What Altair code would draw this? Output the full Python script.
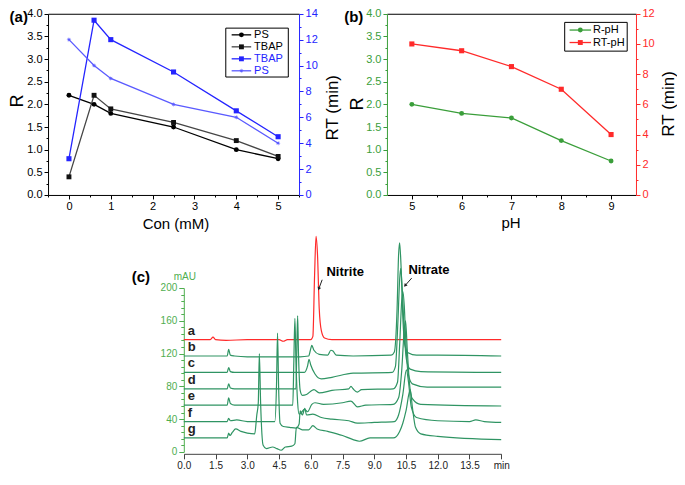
import math
import altair as alt
import pandas as pd

W, H = 669, 465
FONT = "Liberation Sans"


def px(x):
    return round(x * W / 685.0, 2)


def py(y):
    return round(y * H / 485.0, 2)


# ---------------- data: panel (a) ----------------
con_mM = [0, 0.6, 1, 2.5, 4, 5]
r_ps = [2.2, 2.0, 1.8, 1.5, 1.0, 0.8]
r_tbap = [0.4, 2.2, 1.9, 1.6, 1.2, 0.85]
rt_tbap = [2.8, 13.5, 12.0, 9.5, 6.5, 4.5]
rt_ps = [12.0, 10.0, 9.0, 7.0, 6.0, 4.0]

# ---------------- data: panel (b) ----------------
ph_values = [5, 6, 7, 8, 9]
r_ph = [2.0, 1.8, 1.7, 1.2, 0.75]
rt_ph = [10.0, 9.55, 8.5, 7.0, 4.0]

# ---------------- data: panel (c) chromatograms ----------------
trace_ids = ["a", "b", "c", "d", "e", "f", "g"]
t_a = [0, 1.25, 1.38, 1.5, 2.0, 3.0, 4.5, 4.7, 4.9, 6.0, 6.1, 6.18, 6.25, 6.32, 6.4, 6.5, 6.65, 7.0, 10.0, 15.0]
v_a = [137, 137, 140, 137, 136, 137, 137, 135, 137, 137, 141, 215, 263, 240, 175, 148, 139, 137, 137, 137]
t_b = [0, 2.05, 2.12, 2.2, 2.4, 3.0, 5.5, 5.9, 6.0, 6.05, 6.15, 6.4, 6.8, 6.95, 7.05, 7.2, 8.0, 9.8, 9.95, 10.08,
       10.15, 10.2, 10.27, 10.35, 10.45, 10.6, 11.0, 12.0, 15.0]
v_b = [117, 117, 125, 118, 117, 116, 116, 117, 126, 130, 124, 119, 118, 124, 123, 118, 117, 118, 122, 175,
       240, 255, 225, 165, 130, 121, 118, 118, 117]
t_c = [0, 2.05, 2.12, 2.2, 2.4, 5.7, 5.85, 5.92, 6.0, 6.2, 6.5, 7.0, 8.0, 9.85, 10.0, 10.12, 10.2, 10.25, 10.32,
       10.42, 10.52, 10.7, 11.2, 15.0]
v_c = [97, 97, 103, 98, 97, 97, 105, 113, 106, 95, 89, 91, 96, 97, 104, 160, 210, 224, 200,
       145, 113, 101, 98, 97]
t_d = [0, 2.05, 2.12, 2.2, 2.4, 5.3, 5.34, 5.38, 5.42, 5.5, 5.6, 5.8, 6.05, 6.15, 6.4, 7.0, 7.8, 7.9, 8.0, 8.2,
       8.4, 9.9, 10.1, 10.2, 10.3, 10.35, 10.42, 10.5, 10.6, 10.8, 11.5, 15.0]
v_d = [77, 77, 83, 78, 77, 77, 125, 166, 120, 75, 69, 70, 75, 76, 72, 75, 77, 80, 77, 73,
       76, 77, 85, 130, 185, 196, 178, 130, 96, 83, 79, 79]
t_e = [0, 2.05, 2.12, 2.2, 2.4, 5.15, 5.2, 5.25, 5.3, 5.38, 5.45, 5.55, 5.7, 5.85, 6.05, 6.2, 6.6, 7.5, 7.9, 8.2,
       8.6, 9.9, 10.15, 10.3, 10.42, 10.48, 10.56, 10.66, 10.8, 11.2, 15.0]
v_e = [57, 57, 66, 59, 57, 57, 110, 163, 110, 60, 46, 48, 52, 49, 58, 60, 58, 60, 62, 55,
       57, 58, 66, 100, 150, 160, 125, 85, 65, 58, 56]
t_f = [0, 2.05, 2.12, 2.2, 2.5, 3.0, 4.3, 4.38, 4.43, 4.48, 4.55, 4.7, 5.0, 5.3, 5.45, 5.5, 5.6, 5.72, 5.8, 6.1,
       6.5, 7.0, 7.8, 8.2, 9.0, 9.95, 10.15, 10.35, 10.52, 10.62, 10.75, 11.0, 12.0, 13.5, 13.8, 14.2, 15.0]
v_f = [37, 37, 41, 38, 39, 37, 37, 80, 145, 80, 35, 31, 30, 29, 34, 50, 45, 53, 45, 46,
       42, 40, 38, 35, 36, 37, 45, 70, 100, 85, 55, 42, 38, 37, 39, 37, 36]
t_g = [0, 2.05, 2.12, 2.18, 2.3, 2.45, 2.7, 3.0, 3.35, 3.45, 3.52, 3.57, 3.63, 3.75, 3.9, 4.2, 4.4, 4.6, 4.8, 5.1,
       5.25, 5.32, 5.6, 5.9, 6.1, 6.3, 6.8, 7.5, 8.0, 8.3, 8.8, 9.9, 10.2, 10.35, 10.5, 10.7, 10.8, 10.95, 11.2,
       12.0, 15.0]
v_g = [17, 17, 23, 20, 24, 28, 25, 23, 22, 45, 60, 120, 60, 8, 4, 6, 4, 2, 6, 7,
       10, 30, 27, 27, 32, 28, 25, 20, 15, 13, 17, 17, 25, 35, 50, 76, 55, 30, 22,
       19, 15]
trace_t = [t_a, t_b, t_c, t_d, t_e, t_f, t_g]
trace_v = [v_a, v_b, v_c, v_d, v_e, v_f, v_g]

# annotation anchors (min, mAU)
nitrite_arrow = {"x": [6.54], "y": [210], "x2": [6.38], "y2": [199]}
nitrate_arrow = {"x": [10.77], "y": [212], "x2": [10.46], "y2": [203]}

# ---------------- styles ----------------
BLUE = "#2424ff"
BLUE2 = "#5a5aff"
GREEN_B = "#3a9e3a"
RED = "#ff2a2a"
GREEN_C = "#2f9463"
GREEN_AX = "#4fae4f"

# 8-pointed star symbol (asterisk-like marker)
_pts = []
for i in range(16):
    r = 1.0 if i % 2 == 0 else 0.38
    a = math.pi * i / 8
    _pts.append(f"{r * math.sin(a):.3f},{-r * math.cos(a):.3f}")
STAR = "M" + "L".join(_pts) + "Z"

one = pd.DataFrame({"k": [0]})


def axis(orient, pos, values, fmt=None, color="#000", label_color=None, labels=True,
         ticks=True, tick_size=4, domain=True, size=11, pad=2, expr=None):
    if orient == "left":
        off = -px(pos)
    elif orient == "right":
        off = -(W - px(pos))
    elif orient == "top":
        off = -py(pos)
    else:
        off = -(H - py(pos))
    kw = dict(orient=orient, offset=off, values=values, grid=False, title=None, domain=domain,
              domainColor=color, domainWidth=1, ticks=ticks, tickColor=color, tickSize=tick_size,
              tickWidth=1, labels=labels, labelColor=label_color or color, labelFont=FONT,
              labelFontSize=size, labelPadding=pad, labelFlush=False, labelOverlap=False)
    if fmt:
        kw["format"] = fmt
    if expr:
        kw["labelExpr"] = expr
    return alt.Axis(**kw)


def text(s, x, y, size=11, bold=False, color="#000", angle=0, align="center"):
    return alt.Chart(one).mark_text(
        text=s, font=FONT, fontSize=size, fontWeight="bold" if bold else "normal",
        color=color, angle=angle, align=align, baseline="middle"
    ).encode(x=alt.value(px(x)), y=alt.value(py(y)))


layers = []

# ---------------- panel (a) ----------------
xa = alt.Scale(domain=[-0.5, 5.5], range=[px(41), px(298)], nice=False, zero=False)
yaR = alt.Scale(domain=[0, 4], range=[py(195), py(6)], nice=False, zero=False)
yaT = alt.Scale(domain=[0, 14], range=[py(195), py(6)], nice=False, zero=False)

dfA_k = pd.DataFrame({"con": con_mM * 2, "val": r_ps + r_tbap, "s": ["PS"] * 6 + ["TBAP"] * 6})
dfA_b = pd.DataFrame({"con": con_mM * 2, "val": rt_tbap + rt_ps, "s": ["TBAP"] * 6 + ["PS"] * 6})

R_vals = [i * 0.5 for i in range(9)]
layers.append(alt.Chart(dfA_k).mark_line(strokeWidth=1.3).encode(
    x=alt.X("con:Q", scale=xa, axis=axis("bottom", 195, [0, 1, 2, 3, 4, 5], "d")),
    y=alt.Y("val:Q", scale=yaR, axis=axis("left", 41, R_vals, ".1f")),
    color=alt.Color("s:N", scale=alt.Scale(domain=["PS", "TBAP"], range=["#000000", "#454545"]), legend=None)))
layers.append(alt.Chart(dfA_k).mark_point(filled=True, size=24, opacity=1).encode(
    x=alt.X("con:Q", scale=xa, axis=None),
    y=alt.Y("val:Q", scale=yaR, axis=None),
    color=alt.Color("s:N", scale=alt.Scale(domain=["PS", "TBAP"], range=["#000000", "#111111"]), legend=None),
    shape=alt.Shape("s:N", scale=alt.Scale(domain=["PS", "TBAP"], range=["circle", "square"]), legend=None)))
layers.append(alt.Chart(dfA_b).mark_line(strokeWidth=1.3).encode(
    x=alt.X("con:Q", scale=xa, axis=axis("top", 6, [], labels=False, ticks=False)),
    y=alt.Y("val:Q", scale=yaT, axis=axis("right", 298, list(range(0, 15, 2)), "d", color=BLUE)),
    color=alt.Color("s:N", scale=alt.Scale(domain=["TBAP", "PS"], range=[BLUE, BLUE2]), legend=None)))
layers.append(alt.Chart(dfA_b).mark_point(filled=True, size=26, opacity=1).encode(
    x=alt.X("con:Q", scale=xa, axis=None),
    y=alt.Y("val:Q", scale=yaT, axis=None),
    color=alt.Color("s:N", scale=alt.Scale(domain=["TBAP", "PS"], range=[BLUE, BLUE2]), legend=None),
    shape=alt.Shape("s:N", scale=alt.Scale(domain=["TBAP", "PS"], range=["square", STAR]), legend=None)))
# minor ticks (a)
layers.append(alt.Chart(one).mark_point(opacity=0).encode(
    x=alt.X("k:Q", scale=xa, axis=axis("bottom", 195, [-0.5, 0.5, 1.5, 2.5, 3.5, 4.5, 5.5], labels=False, tick_size=2, domain=False)),
    y=alt.Y("k:Q", scale=yaR, axis=axis("left", 41, [0.25 + 0.5 * i for i in range(8)], labels=False, tick_size=2, domain=False))))
layers.append(alt.Chart(one).mark_point(opacity=0).encode(
    x=alt.X("k:Q", scale=xa, axis=None),
    y=alt.Y("k:Q", scale=yaT, axis=axis("right", 298, list(range(1, 14, 2)), labels=False, tick_size=2, domain=False, color=BLUE))))

# legend (a)
legA = pd.DataFrame({"row": [0, 1, 2, 3], "label": ["PS", "TBAP", "TBAP", "PS"]})
ly_a = alt.Scale(domain=[0, 3], range=[py(28), py(65.5)], nice=False, zero=False)
layers.append(alt.Chart(one).mark_rect(fill="white", stroke="#000", strokeWidth=1).encode(
    x=alt.value(px(223)), x2=alt.value(px(287)), y=alt.value(py(21)), y2=alt.value(py(72))))
layers.append(alt.Chart(legA).mark_rule(strokeWidth=1.3).encode(
    x=alt.value(px(229)), x2=alt.value(px(249)),
    y=alt.Y("row:Q", scale=ly_a, axis=None),
    color=alt.Color("row:N", scale=alt.Scale(domain=[0, 1, 2, 3], range=["#000000", "#454545", BLUE, BLUE2]), legend=None)))
layers.append(alt.Chart(legA).mark_point(filled=True, size=24, opacity=1).encode(
    x=alt.value(px(239)),
    y=alt.Y("row:Q", scale=ly_a, axis=None),
    color=alt.Color("row:N", scale=alt.Scale(domain=[0, 1, 2, 3], range=["#000000", "#111111", BLUE, BLUE2]), legend=None),
    shape=alt.Shape("row:N", scale=alt.Scale(domain=[0, 1, 2, 3], range=["circle", "square", "square", STAR]), legend=None)))
layers.append(alt.Chart(legA).mark_text(font=FONT, fontSize=11, align="left", baseline="middle").encode(
    x=alt.value(px(252)),
    y=alt.Y("row:Q", scale=ly_a, axis=None),
    text="label:N",
    color=alt.Color("row:N", scale=alt.Scale(domain=[0, 1, 2, 3], range=["#000000", "#000000", BLUE, BLUE]), legend=None)))

# ---------------- panel (b) ----------------
xb = alt.Scale(domain=[4.5, 9.5], range=[px(388), px(643)], nice=False, zero=False)
ybR = alt.Scale(domain=[0, 4], range=[py(195), py(6)], nice=False, zero=False)
ybT = alt.Scale(domain=[0, 12], range=[py(195), py(6)], nice=False, zero=False)
dfB_r = pd.DataFrame({"ph": ph_values, "val": r_ph})
dfB_t = pd.DataFrame({"ph": ph_values, "val": rt_ph})

layers.append(alt.Chart(dfB_r).mark_line(strokeWidth=1.3, color=GREEN_B).encode(
    x=alt.X("ph:Q", scale=xb, axis=axis("bottom", 195, [5, 6, 7, 8, 9], "d")),
    y=alt.Y("val:Q", scale=ybR, axis=axis("left", 388, R_vals, ".1f", color=GREEN_B))))
layers.append(alt.Chart(dfB_r).mark_point(filled=True, size=24, opacity=1, color=GREEN_B, shape="circle").encode(
    x=alt.X("ph:Q", scale=xb, axis=None),
    y=alt.Y("val:Q", scale=ybR, axis=None)))
layers.append(alt.Chart(dfB_t).mark_line(strokeWidth=1.3, color=RED).encode(
    x=alt.X("ph:Q", scale=xb, axis=axis("top", 6, [], labels=False, ticks=False)),
    y=alt.Y("val:Q", scale=ybT, axis=axis("right", 643, list(range(0, 13, 2)), "d", color=RED))))
layers.append(alt.Chart(dfB_t).mark_point(filled=True, size=26, opacity=1, color=RED, shape="square").encode(
    x=alt.X("ph:Q", scale=xb, axis=None),
    y=alt.Y("val:Q", scale=ybT, axis=None)))
layers.append(alt.Chart(one).mark_point(opacity=0).encode(
    x=alt.X("k:Q", scale=xb, axis=axis("bottom", 195, [5.5, 6.5, 7.5, 8.5], labels=False, tick_size=2, domain=False)),
    y=alt.Y("k:Q", scale=ybR, axis=axis("left", 388, [0.25 + 0.5 * i for i in range(8)], labels=False, tick_size=2, domain=False, color=GREEN_B))))
layers.append(alt.Chart(one).mark_point(opacity=0).encode(
    x=alt.X("k:Q", scale=xb, axis=None),
    y=alt.Y("k:Q", scale=ybT, axis=axis("right", 643, list(range(1, 12, 2)), labels=False, tick_size=2, domain=False, color=RED))))

# legend (b)
legB = pd.DataFrame({"row": [0, 1], "label": ["R-pH", "RT-pH"]})
ly_b = alt.Scale(domain=[0, 1], range=[py(23), py(36)], nice=False, zero=False)
layers.append(alt.Chart(one).mark_rect(fill="white", stroke="#000", strokeWidth=1).encode(
    x=alt.value(px(570)), x2=alt.value(px(634)), y=alt.value(py(15)), y2=alt.value(py(45))))
layers.append(alt.Chart(legB).mark_rule(strokeWidth=1.3).encode(
    x=alt.value(px(575)), x2=alt.value(px(597)),
    y=alt.Y("row:Q", scale=ly_b, axis=None),
    color=alt.Color("row:N", scale=alt.Scale(domain=[0, 1], range=[GREEN_B, RED]), legend=None)))
layers.append(alt.Chart(legB).mark_point(filled=True, size=24, opacity=1).encode(
    x=alt.value(px(586)),
    y=alt.Y("row:Q", scale=ly_b, axis=None),
    color=alt.Color("row:N", scale=alt.Scale(domain=[0, 1], range=[GREEN_B, RED]), legend=None),
    shape=alt.Shape("row:N", scale=alt.Scale(domain=[0, 1], range=["circle", "square"]), legend=None)))
layers.append(alt.Chart(legB).mark_text(font=FONT, fontSize=11, align="left", baseline="middle", color="#000").encode(
    x=alt.value(px(599)),
    y=alt.Y("row:Q", scale=ly_b, axis=None),
    text="label:N"))

# ---------------- panel (c) ----------------
xc = alt.Scale(domain=[0, 15], range=[px(180), px(505)], nice=False, zero=False)
yc = alt.Scale(domain=[0, 200], range=[py(463), py(292)], nice=False, zero=False)
rows = []
for tid, ts, vs in zip(trace_ids, trace_t, trace_v):
    for t, v in zip(ts, vs):
        rows.append({"trace": tid, "t": t, "v": v})
dfC = pd.DataFrame(rows)

x_c_vals = [i * 1.5 for i in range(11)]
layers.append(alt.Chart(dfC).mark_line(strokeWidth=1.2, interpolate="monotone").encode(
    x=alt.X("t:Q", scale=xc, axis=axis("bottom", 465, x_c_vals, color="#444", label_color="#222", size=10, tick_size=5,
                                       pad=2, expr="datum.value == 15 ? 'min' : format(datum.value, '.1f')")),
    y=alt.Y("v:Q", scale=yc, axis=axis("left", 180, list(range(0, 201, 40)), "d", color=GREEN_AX, size=10, tick_size=5)),
    color=alt.Color("trace:N", scale=alt.Scale(domain=trace_ids, range=[RED] + [GREEN_C] * 6), legend=None),
    detail="trace:N"))
layers.append(alt.Chart(one).mark_point(opacity=0).encode(
    x=alt.X("k:Q", scale=xc, axis=None),
    y=alt.Y("k:Q", scale=yc, axis=axis("left", 180, [v for v in range(8, 200, 8) if v % 40 != 0], labels=False,
                                       tick_size=3, domain=False, color=GREEN_AX))))

labC = pd.DataFrame({"trace": trace_ids, "ly": [vs[0] + 11 for vs in trace_v]})
layers.append(alt.Chart(labC).mark_text(font=FONT, fontSize=13, fontWeight="bold", align="left", baseline="middle", color="#222").encode(
    x=alt.value(px(184)),
    y=alt.Y("ly:Q", scale=yc, axis=None),
    text="trace:N"))

for arr, ang in [(nitrite_arrow, 200), (nitrate_arrow, 221)]:
    dfa = pd.DataFrame(arr)
    layers.append(alt.Chart(dfa).mark_rule(color="#222", strokeWidth=1).encode(
        x=alt.X("x:Q", scale=xc, axis=None), x2="x2:Q",
        y=alt.Y("y:Q", scale=yc, axis=None), y2="y2:Q"))
    layers.append(alt.Chart(dfa).mark_point(shape="triangle-up", filled=True, size=14, opacity=1, color="#222", angle=ang).encode(
        x=alt.X("x2:Q", scale=xc, axis=None),
        y=alt.Y("y2:Q", scale=yc, axis=None)))

# ---------------- texts ----------------
layers += [
    text("(a)", 11, 9, size=15, bold=True),
    text("(b)", 354, 9, size=15, bold=True),
    text("(c)", 136, 281, size=15, bold=True),
    text("R", 10, 97, size=18, angle=270),
    text("RT (min)", 333, 104, size=17, angle=270),
    text("Con (mM)", 172, 225, size=15),
    text("R", 358, 100, size=18, angle=270),
    text("RT (min)", 677, 100, size=17, angle=270),
    text("pH", 515, 224, size=15),
    text("mAU", 181, 281, size=10, color=GREEN_AX),
    text("Nitrite", 326, 275, size=13, bold=True, align="left"),
    text("Nitrate", 410, 273, size=13, bold=True, align="left"),
]

chart = alt.layer(*layers).resolve_scale(
    x="independent", y="independent", color="independent", shape="independent"
).resolve_axis(x="independent", y="independent").properties(
    width=W, height=H, autosize=alt.AutoSizeParams(type="none"), padding=0
).configure_view(stroke=None)

chart.save("out.html", embed_options={"renderer": "svg", "actions": False})
